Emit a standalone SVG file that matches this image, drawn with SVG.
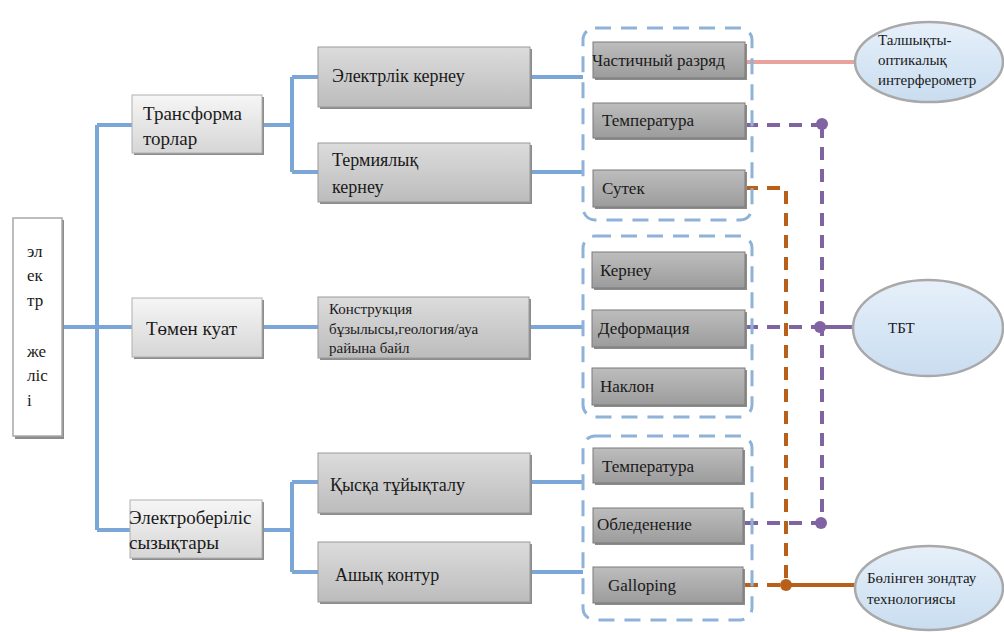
<svg xmlns="http://www.w3.org/2000/svg" width="1004" height="632" viewBox="0 0 1004 632">
<defs>
<linearGradient id="g1" x1="0" y1="0" x2="0" y2="1"><stop offset="0" stop-color="#f6f6f6"/><stop offset="1" stop-color="#d6d6d6"/></linearGradient>
<linearGradient id="g2" x1="0" y1="0" x2="0" y2="1"><stop offset="0" stop-color="#dcdcdc"/><stop offset="1" stop-color="#bcbcbc"/></linearGradient>
<linearGradient id="g3" x1="0" y1="0" x2="0" y2="1"><stop offset="0" stop-color="#bdbdbd"/><stop offset="1" stop-color="#9c9c9c"/></linearGradient>
<linearGradient id="ge" x1="0" y1="0" x2="0" y2="1"><stop offset="0" stop-color="#e6f0fa"/><stop offset="1" stop-color="#c9ddf0"/></linearGradient>
</defs>
<style>
.sh{fill:#8c8c8c}
.b1{fill:url(#g1);stroke:#b0b0b0;stroke-width:1}
.b2{fill:url(#g2);stroke:#9a9a9a;stroke-width:1}
.b3{fill:url(#g3);stroke:#7a7a7a;stroke-width:1}
.grp{fill:none;stroke:#8fb2d9;stroke-width:3;stroke-dasharray:16 10}
.blue{fill:none;stroke:#7aa7d8;stroke-width:4}
.pd{fill:none;stroke:#8064a2;stroke-width:4;stroke-dasharray:13 9}
.ps{fill:none;stroke:#8064a2;stroke-width:4}
.od{fill:none;stroke:#b85f1a;stroke-width:4;stroke-dasharray:13 9}
.os{fill:none;stroke:#b85f1a;stroke-width:4}
.ell{fill:url(#ge);stroke:#a9a9a9;stroke-width:2.5}
</style>
<rect width="1004" height="632" fill="#ffffff"/>

<g id="connectors">
<path class="blue" d="M62 327 H132"/>
<path class="blue" d="M97 125 V530"/>
<path class="blue" d="M97 125 H132"/>
<path class="blue" d="M97 530 H130"/>
<path class="blue" d="M262 125 H292"/>
<path class="blue" d="M292 77 V172"/>
<path class="blue" d="M292 77 H318"/>
<path class="blue" d="M292 172 H318"/>
<path class="blue" d="M530 77 H583"/>
<path class="blue" d="M530 172 H583"/>
<path class="blue" d="M262 327 H318"/>
<path class="blue" d="M529 327 H583"/>
<path class="blue" d="M262 530 H292"/>
<path class="blue" d="M292 482 V572"/>
<path class="blue" d="M292 482 H318"/>
<path class="blue" d="M292 572 H318"/>
<path class="blue" d="M530 482 H583"/>
<path class="blue" d="M530 572 H583"/>
<path d="M745 62 H855" fill="none" stroke="#e8a39c" stroke-width="4"/>
<path class="pd" d="M745 125 H822"/>
<path class="pd" d="M822 125 V523"/>
<path class="pd" d="M745 523 H822"/>
<path class="pd" d="M745 327 H820"/>
<path class="ps" d="M820 327 H854"/>
<path class="od" d="M745 188 H786 V585"/>
<path class="od" d="M745 585 H786"/>
<path class="os" d="M786 585 H856"/>
<circle cx="822" cy="124" r="6" fill="#8064a2"/>
<circle cx="820" cy="327" r="6" fill="#8064a2"/>
<circle cx="821" cy="523" r="6" fill="#8064a2"/>
<circle cx="786" cy="585" r="6" fill="#b85f1a"/>
</g>

<g id="group1"><rect class="grp" x="583" y="28" width="169" height="192" rx="12"/></g>
<g id="group2"><rect class="grp" x="583" y="236" width="169" height="181" rx="12"/></g>
<g id="group3"><rect class="grp" x="583" y="436" width="169" height="184" rx="12"/></g>

<g id="root">
<rect class="sh" x="15" y="220" width="49" height="219"/>
<rect x="13" y="218" width="49" height="218" fill="#ffffff" stroke="#a8a8a8" stroke-width="1.5"/>
<text font-family="Liberation Serif" font-size="17" fill="#1a1a1a" x="27" y="257">эл</text>
<text font-family="Liberation Serif" font-size="17" fill="#1a1a1a" x="27" y="281">ек</text>
<text font-family="Liberation Serif" font-size="17" fill="#1a1a1a" x="27" y="306">тр</text>
<text font-family="Liberation Serif" font-size="17" fill="#1a1a1a" x="27" y="357">же</text>
<text font-family="Liberation Serif" font-size="17" fill="#1a1a1a" x="27" y="381">ліс</text>
<text font-family="Liberation Serif" font-size="17" fill="#1a1a1a" x="27" y="406">і</text>
</g>

<g id="transformatorlar">
<rect class="sh" x="134" y="97" width="130" height="58"/>
<rect class="b1" x="132" y="95" width="130" height="58"/>
<text font-family="Liberation Serif" font-size="19" fill="#1a1a1a" x="143" y="120">Трансформа</text>
<text font-family="Liberation Serif" font-size="19" fill="#1a1a1a" x="143" y="145">торлар</text>
</g>
<g id="tomen">
<rect class="sh" x="134" y="300" width="130" height="59"/>
<rect class="b1" x="132" y="298" width="130" height="59"/>
<text font-family="Liberation Serif" font-size="19" fill="#1a1a1a" x="146" y="335">Төмен куат</text>
</g>
<g id="elektroberilis">
<rect class="sh" x="132" y="502" width="132" height="58"/>
<rect class="b1" x="130" y="500" width="132" height="58"/>
<text font-family="Liberation Serif" font-size="19" fill="#1a1a1a" x="129" y="524">Электроберіліс</text>
<text font-family="Liberation Serif" font-size="19" fill="#1a1a1a" x="129" y="549">сызықтары</text>
</g>

<g id="elektrlik">
<rect class="sh" x="320" y="49" width="212" height="60"/>
<rect class="b2" x="318" y="47" width="212" height="60"/>
<text font-family="Liberation Serif" font-size="18" fill="#1a1a1a" x="332" y="82">Электрлік кернеу</text>
</g>
<g id="termiyalyk">
<rect class="sh" x="320" y="145" width="212" height="59"/>
<rect class="b2" x="318" y="143" width="212" height="59"/>
<text font-family="Liberation Serif" font-size="18" fill="#1a1a1a" x="332" y="166">Термиялық</text>
<text font-family="Liberation Serif" font-size="18" fill="#1a1a1a" x="332" y="193">кернеу</text>
</g>
<g id="konstruktsiya">
<rect class="sh" x="320" y="299" width="211" height="61"/>
<rect class="b2" x="318" y="297" width="211" height="61"/>
<text font-family="Liberation Serif" font-size="15" fill="#1a1a1a" x="329" y="314">Конструкция</text>
<text font-family="Liberation Serif" font-size="15" fill="#1a1a1a" x="329" y="334">бұзылысы,геология/ауа</text>
<text font-family="Liberation Serif" font-size="15" fill="#1a1a1a" x="329" y="353">райына байл</text>
</g>
<g id="kyska">
<rect class="sh" x="320" y="455" width="212" height="60"/>
<rect class="b2" x="318" y="453" width="212" height="60"/>
<text font-family="Liberation Serif" font-size="18" fill="#1a1a1a" x="330" y="491">Қысқа тұйықталу</text>
</g>
<g id="ashyk">
<rect class="sh" x="320" y="544" width="212" height="60"/>
<rect class="b2" x="318" y="542" width="212" height="60"/>
<text font-family="Liberation Serif" font-size="18" fill="#1a1a1a" x="335" y="581">Ашық контур</text>
</g>

<g id="chastichny">
<rect class="sh" x="595" y="44" width="152" height="36"/>
<rect class="b3" x="593" y="42" width="152" height="36"/>
<text font-family="Liberation Serif" font-size="17" fill="#1a1a1a" x="592" y="66">Частичный разряд</text>
</g>
<g id="temperatura1">
<rect class="sh" x="595" y="105" width="152" height="35"/>
<rect class="b3" x="593" y="103" width="152" height="35"/>
<text font-family="Liberation Serif" font-size="17" fill="#1a1a1a" x="602" y="126">Температура</text>
</g>
<g id="sutek">
<rect class="sh" x="595" y="172" width="152" height="37"/>
<rect class="b3" x="593" y="170" width="152" height="37"/>
<text font-family="Liberation Serif" font-size="17" fill="#1a1a1a" x="602" y="194">Сутек</text>
</g>
<g id="kerneu">
<rect class="sh" x="594" y="254" width="153" height="36"/>
<rect class="b3" x="592" y="252" width="153" height="36"/>
<text font-family="Liberation Serif" font-size="17" fill="#1a1a1a" x="600" y="276">Кернеу</text>
</g>
<g id="deformatsiya">
<rect class="sh" x="594" y="312" width="153" height="37"/>
<rect class="b3" x="592" y="310" width="153" height="37"/>
<text font-family="Liberation Serif" font-size="17" fill="#1a1a1a" x="598" y="334">Деформация</text>
</g>
<g id="naklon">
<rect class="sh" x="594" y="370" width="153" height="37"/>
<rect class="b3" x="592" y="368" width="153" height="37"/>
<text font-family="Liberation Serif" font-size="17" fill="#1a1a1a" x="600" y="392">Наклон</text>
</g>
<g id="temperatura2">
<rect class="sh" x="595" y="450" width="150" height="35"/>
<rect class="b3" x="593" y="448" width="150" height="35"/>
<text font-family="Liberation Serif" font-size="17" fill="#1a1a1a" x="602" y="472">Температура</text>
</g>
<g id="obledenenie">
<rect class="sh" x="595" y="510" width="150" height="35"/>
<rect class="b3" x="593" y="508" width="150" height="35"/>
<text font-family="Liberation Serif" font-size="17" fill="#1a1a1a" x="597" y="530">Обледенение</text>
</g>
<g id="galloping">
<rect class="sh" x="595" y="569" width="150" height="36"/>
<rect class="b3" x="593" y="567" width="150" height="36"/>
<text font-family="Liberation Serif" font-size="17" fill="#1a1a1a" x="608" y="591">Galloping</text>
</g>

<g id="interferometr">
<ellipse class="ell" cx="929" cy="62" rx="74" ry="40"/>
<text font-family="Liberation Serif" font-size="15" fill="#1a1a1a" x="878" y="45">Талшықты-</text>
<text font-family="Liberation Serif" font-size="15" fill="#1a1a1a" x="878" y="65">оптикалық</text>
<text font-family="Liberation Serif" font-size="15" fill="#1a1a1a" x="878" y="85">интерферометр</text>
</g>
<g id="tbt">
<ellipse class="ell" cx="928" cy="328" rx="75" ry="48"/>
<text font-family="Liberation Serif" font-size="15" fill="#1a1a1a" x="888" y="333">ТБТ</text>
</g>
<g id="zondtau">
<ellipse class="ell" cx="929" cy="588" rx="74" ry="42"/>
<text font-family="Liberation Serif" font-size="15" fill="#1a1a1a" x="867" y="583">Бөлінген зондтау</text>
<text font-family="Liberation Serif" font-size="15" fill="#1a1a1a" x="867" y="604">технологиясы</text>
</g>
</svg>
